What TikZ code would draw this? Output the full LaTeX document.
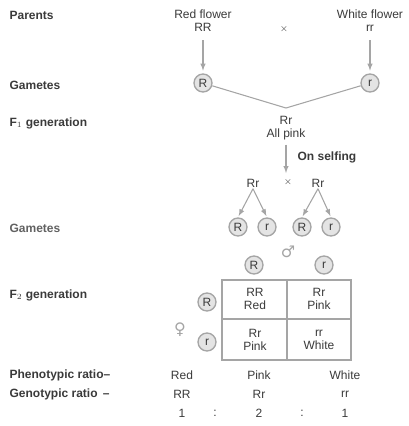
\documentclass[tikz,border=0pt]{standalone}
\usepackage{fontspec}
\setmainfont{Liberation Sans}
\newfontfamily\symfont{DejaVu Sans}
\usetikzlibrary{arrows,positioning}
\definecolor{txt}{HTML}{3A3A3A}
\definecolor{ln}{HTML}{A5A5A5}
\definecolor{gfill}{HTML}{E4E4E4}

\begin{document}
\begin{tikzpicture}[x=0.75pt,y=-0.75pt,
    every node/.style={inner sep=1pt,text=txt,font=\fontsize{9}{9.8}\selectfont},
    lbl/.style={anchor=west,font=\fontsize{9}{9.8}\selectfont\bfseries},
    two/.style={align=center},
    gam/.style={circle,draw=ln,fill=gfill,line width=1pt,minimum size=13.5pt,inner sep=0pt},
    arr/.style={draw=ln,line width=0.8pt,-latex},
    grid/.style={draw=ln,line width=0.8pt}]
  \useasboundingbox (0,0) rectangle (409,426);

  % left column
  \node[lbl] (parents) at (8,15) {Parents};
  \node[lbl] (gam1) at (8,85) {Gametes};
  \node[lbl] (fone) at (8,123) {F$_1$ generation};
  \node[lbl,text=txt!80] (gam2) at (8,228) {Gametes};
  \node[lbl] (ftwo) at (8,295) {F$_2$ generation};
  \node[lbl] (pheno) at (8,375) {Phenotypic ratio--};
  \node[lbl] (geno) at (8,394) {Genotypic ratio \,--};

  % parents
  \node[two] (red) at (203,21) {Red flower\\RR};
  \node[two] (white) at (370,21) {White flower\\rr};
  \node (x1) at (284,29) {\scriptsize$\times$};
  \node[gam] (gR) at (203,83) {R};
  \node[gam] (gr) at (370,83) {r};
  \draw[arr,shorten <=5pt,shorten >=2pt] (red) -- (gR);
  \draw[arr,shorten <=5pt,shorten >=2pt] (white) -- (gr);

  % F1
  \coordinate (meet) at (286,108);
  \draw[grid] (gR) -- (meet) -- (gr);
  \node[two] (rr1) at (286,128) {Rr\\All pink};
  \draw[arr] (rr1.south) ++(0,3) coordinate (top) -- (286,173) coordinate (bot);
  \node[lbl,anchor=west] (self) at (296,157) {On selfing};

  % selfing
  \node (pl) at (253,183) {Rr};
  \node (pr) at (318,183) {Rr};
  \node (x2) at (288,182) {\scriptsize$\times$};
  \node[gam] (lR) at (238,227) {R};
  \node[gam] (lr) at (267,227) {r};
  \node[gam] (rR) at (302,227) {R};
  \node[gam] (rr) at (331,227) {r};
  \foreach \p/\g in {pl/lR,pl/lr,pr/rR,pr/rr}
    \draw[arr,shorten >=1pt] (\p.south) -- (\g.north);

  % F2 checkerboard
  \node[text=ln] (male) at (288,252) {\symfont\large ♂};
  \node[gam] (cR) at (254,265) {R};
  \node[gam] (cr) at (324,265) {r};
  \node[gam] (wR) at (207,302) {R};
  \node[gam] (wr) at (207,342) {r};
  \node[text=ln] (female) at (180,330) {\symfont\large ♀};
  \draw[grid] (222,280) rectangle (351,360);
  \draw[grid] (287,280) -- (287,360);
  \draw[grid] (222,319) -- (351,319);
  \node[two] (c11) at (255,299) {RR\\Red};
  \node[two] (c12) at (319,299) {Rr\\Pink};
  \node[two] (c21) at (255,340) {Rr\\Pink};
  \node[two] (c22) at (319,340) {rr\\White};

  % ratios
  \node (ph1) at (182,375) {Red};
  \node (ph2) at (259,375) {Pink};
  \node (ph3) at (345,375) {White};
  \node (ge1) at (182,394) {RR};
  \node (ge2) at (259,394) {Rr};
  \node (ge3) at (345,394) {rr};
  \node (n1) at (182,413) {1};
  \node (d1) at (215,413) {:};
  \node (n2) at (259,413) {2};
  \node (d2) at (302,413) {:};
  \node (n3) at (345,413) {1};
\end{tikzpicture}
\end{document}
